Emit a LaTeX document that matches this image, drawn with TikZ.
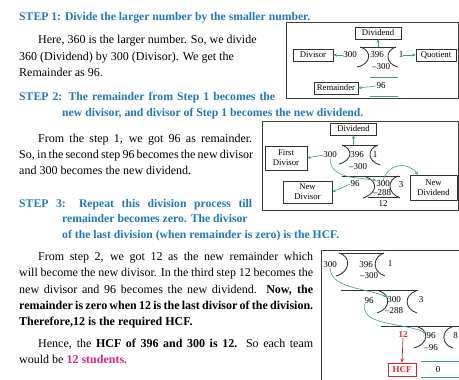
\documentclass[tikz,border=0pt]{standalone}
\usepackage{fontspec}
\setmainfont{Liberation Serif}
\usetikzlibrary{arrows.meta}
\definecolor{stepblue}{RGB}{30,120,185}
\definecolor{tealc}{RGB}{60,160,150}
\definecolor{hcfred}{RGB}{215,35,45}
\definecolor{pinkc}{RGB}{225,30,140}
\newcommand{\jl}[2]{\makebox[#1pt][s]{#2}}
\begin{document}
\begin{tikzpicture}[x=1pt,y=-1pt,
  head/.style={anchor=base west, inner sep=0pt, text=stepblue, font=\fontsize{11.7}{13}\selectfont\bfseries},
  body/.style={anchor=base west, inner sep=0pt, font=\fontsize{12}{14}\selectfont},
  lbl/.style={draw=black!80, line width=0.5pt, font=\fontsize{8.7}{9.7}\selectfont, inner sep=1pt, align=center},
  num/.style={inner sep=0pt, font=\fontsize{9}{10}\selectfont},
  frame/.style={draw=black!75, line width=0.6pt},
  brk/.style={draw=black!80, line width=0.85pt},
  bar/.style={draw=black!80, line width=0.7pt},
  tarr/.style={draw=tealc, line width=0.6pt, -{Stealth[length=3.5pt,width=3pt]}},
  tline/.style={draw=tealc, line width=0.6pt},
]
\path[use as bounding box] (0,0) rectangle (459,380);
\clip (0,0) rectangle (459,380);

% ---------- text ----------
\node[head] (s1) at (19,20) {STEP 1: Divide the larger number by the smaller number.};
\node[body] (p1a) at (38,44) {Here, 360 is the larger number. So, we divide};
\node[body] (p1b) at (19,60) {360 (Dividend) by 300 (Divisor). We get the};
\node[body] (p1c) at (19,76) {Remainder as 96.};

\node[head] (s2a) at (19,100) {\jl{256}{STEP 2: The remainder from Step 1 becomes the}};
\node[head] (s2b) at (62,117) {new divisor, and divisor of Step 1 becomes the new dividend.};

\node[body] (p2a) at (38,142) {\jl{214}{From the step 1, we got 96 as remainder.}};
\node[body] (p2b) at (19,158) {\jl{234}{So, in the second step 96 becomes the new divisor}};
\node[body] (p2c) at (19,175) {and 300 becomes the new dividend.};

\node[head] (s3a) at (19,207) {\jl{233}{STEP 3: Repeat this division process till}};
\node[head] (s3b) at (62,222) {remainder becomes zero. The divisor};
\node[head] (s3c) at (62,238) {of the last division (when remainder is zero) is the HCF.};

\node[body] (p3a) at (38,260) {\jl{275}{From step 2, we got 12 as the new remainder which}};
\node[body] (p3b) at (19,276) {\jl{294}{will become the new divisor. In the third step 12 becomes the}};
\node[body] (p3c) at (19,293) {\jl{294}{new divisor and 96 becomes the new dividend. \textbf{Now, the}}};
\node[body] (p3d) at (19,309) {\jl{294}{\textbf{remainder is zero when 12 is the last divisor of the division.}}};
\node[body] (p3e) at (19,325) {\textbf{Therefore,12 is the required HCF.}};

\node[body] (p4a) at (38,347) {\jl{275}{Hence, the \textbf{HCF of 396 and 300 is 12.} So each team}};
\node[body] (p4b) at (19,363) {would be \textcolor{pinkc}{\textbf{12 students.}}};

% ---------- diagram 1 ----------
\draw[frame] (286,22) rectangle (458,98);
\node[lbl, minimum width=46pt, minimum height=12pt] (a-dvd) at (378,33) {Dividend};
\node[lbl, minimum width=40pt, minimum height=12pt] (a-dvs) at (313,55) {Divisor};
\node[lbl, minimum width=40pt, minimum height=12pt] (a-quo) at (436,55) {Quotient};
\node[lbl, minimum width=44pt, minimum height=12pt] (a-rem) at (336,88) {Remainder};
\node[num] (a300) at (350,55) {300};
\node[num] (a396) at (377,55) {396};
\node[num] (a1) at (401,55) {1};
\node[num] (am300) at (381,67) {–300};
\node[num] (a96) at (381,86) {96};
\draw[bar] (360,47) -- (396,47);
\draw[brk] (360,47) .. controls (372,50) and (372,64) .. (357,67);
\draw[brk] (396,47) .. controls (385,50) and (385,64) .. (398,67);
\coordinate (a-up) at (378,47);
\draw[tarr] (a-up) -- (a-dvd.south);
\draw[tarr] (a300.west) -- (a-dvs.east);
\draw[tarr] (a1.east) -- (a-quo.west);
\draw[tarr] (a96.west) -- (a-rem.east);
\draw[tline] (370,77) -- (398,77);
\draw[tline] (370,96) -- (398,96);

% ---------- diagram 2 ----------
\draw[frame] (262,121) rectangle (458,210);
\node[lbl, minimum width=46pt, minimum height=12pt] (b-dvd) at (353.5,129) {Dividend};
\node[lbl, minimum width=42pt, minimum height=24pt] (b-fd) at (286,158) {First\\Divisor};
\node[lbl, minimum width=49pt, minimum height=22pt] (b-nd) at (307.5,192) {New\\Divisor};
\node[lbl, minimum width=47pt, minimum height=25pt] (b-ndd) at (433.5,187.5) {New\\Dividend};
\node[num] (b300) at (330,155) {300};
\node[num] (b396) at (357,155) {396};
\node[num] (b1) at (375,155) {1};
\node[num] (bm300) at (358,167) {–300};
\draw[bar] (342,145) -- (378,145);
\draw[brk] (342,145) .. controls (353,149) and (353,160) .. (339,164);
\draw[brk] (378,145) .. controls (367,149) and (367,161) .. (380,165);
\coordinate (b-up) at (353.5,145);
\draw[tarr] (b-up) -- (b-dvd.south);
\draw[tarr] (b300.west) -- (b-fd.east);
\node[num] (b96) at (355,184) {96};
\node[num] (b2300) at (383,184) {300};
\node[num] (bm288) at (382,193) {–288};
\node[num] (b12) at (383,203.5) {12};
\node[num] (b3) at (401,185) {3};
\draw[bar] (342,176) -- (400,176);
\draw[brk] (366,177) .. controls (378,181) and (378,193) .. (363,198);
\draw[brk] (398,176) .. controls (387,180) and (387,193) .. (400,198);
\draw[bar] (368,197.5) -- (398,197.5);
\draw[tarr] (b96.west) -- (b-nd.east);
\draw[tarr] (b300.south) .. controls (330,180) and (360,177) .. (b2300.north west);
\coordinate (b-ndt) at (418,175);
\draw[tarr] (b2300.north) .. controls (388,163) and (408,161) .. (b-ndt);

% ---------- diagram 3 ----------
\draw[frame] (321,250) rectangle (470,390);
\node[num] (c300) at (330,265) {300};
\node[num] (c396) at (366,265) {396};
\node[num] (c1) at (390,264) {1};
\node[num] (cm300) at (369,276) {–300};
\draw[bar] (339,253) -- (384,253);
\draw[brk] (339,253) .. controls (351,256) and (351,272) .. (336,276);
\draw[brk] (384,253) .. controls (372,257) and (372,272) .. (385,276);
\node[num] (c96) at (369,301) {96};
\node[num] (c2300) at (394,300) {300};
\node[num] (cm288) at (394,311) {–288};
\node[num] (c3) at (421,300) {3};
\draw[bar] (341,290) -- (418,290);
\draw[brk] (379,291) .. controls (391,294) and (391,309) .. (377,313);
\draw[brk] (416,291) .. controls (404,295) and (404,309) .. (417,313);
\draw[tarr] (c300.south) .. controls (332,288) and (360,287) .. (c2300.north west);
\node[num, text=hcfred, font=\fontsize{9}{10}\selectfont\bfseries] (c12) at (403,335) {12};
\node[num] (c396b) at (431,336) {96};
\node[num] (cm96) at (431,348) {–96};
\node[num] (c8) at (455.5,336) {8};
\draw[bar] (381,326) -- (470,326);
\draw[brk] (418,327) .. controls (429,330) and (429,344) .. (414,348);
\draw[brk] (452,327) .. controls (441,330) and (441,345) .. (453,348);
\draw[tarr] (c96.south west) .. controls (362,326) and (400,322) .. (c396b.north west);
\node[draw=hcfred, line width=0.7pt, text=hcfred, font=\fontsize{9}{10}\selectfont\bfseries, minimum width=28pt, minimum height=13pt, inner sep=1pt] (chcf) at (402,369.5) {HCF};
\draw[draw=hcfred, line width=0.7pt, -{Stealth[length=4pt,width=3.5pt]}] (c12.south) -- (chcf.north);
\draw[tline] (421,361) -- (470,361);
\draw[tline] (421,377) -- (470,377);
\node[num] (c0) at (438,369.5) {0};
\end{tikzpicture}
\end{document}
